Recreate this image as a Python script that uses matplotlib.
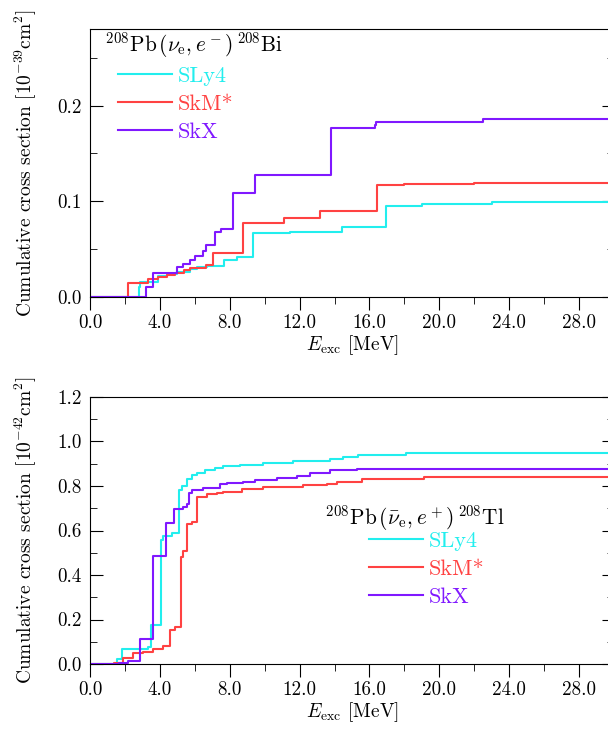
import numpy as np
import matplotlib
matplotlib.use('Agg')
import matplotlib.pyplot as plt
from matplotlib.ticker import MultipleLocator

plt.rcParams['font.family'] = 'serif'
plt.rcParams['font.serif'] = ['cmr10']
plt.rcParams['mathtext.fontset'] = 'cm'
plt.rcParams['axes.unicode_minus'] = False
plt.rcParams['axes.formatter.use_mathtext'] = True

# top panel: 208Pb(nu_e, e-)208Bi, cumulative cross section [1e-39 cm^2]
nu_sly4_e = [0.0, 2.79, 2.86, 3.9, 4.43, 4.96, 5.72, 6.1, 6.68, 7.67, 8.4, 9.35, 11.45, 14.4, 16.95, 19.0, 23.0, 30.0]
nu_sly4_s = [0.0, 0.0108, 0.016, 0.022, 0.024, 0.0265, 0.029, 0.0318, 0.0325, 0.0387, 0.042, 0.0667, 0.068, 0.0736, 0.095, 0.097, 0.099, 0.0995]
nu_skm_e = [0.0, 2.2, 3.34, 3.9, 4.43, 4.87, 5.4, 5.72, 6.64, 7.02, 8.74, 11.1, 13.17, 16.45, 18.0, 22.0, 30.0]
nu_skm_s = [0.0, 0.015, 0.0185, 0.0206, 0.023, 0.0255, 0.028, 0.030, 0.0335, 0.0457, 0.077, 0.083, 0.090, 0.1166, 0.118, 0.119, 0.120]
nu_skx_e = [0.0, 3.2, 3.63, 5.0, 5.3, 5.7, 6.03, 6.45, 6.64, 7.14, 7.48, 8.2, 9.45, 13.78, 16.3, 16.4, 22.5, 30.0]
nu_skx_s = [0.0, 0.010, 0.0248, 0.031, 0.034, 0.039, 0.043, 0.0485, 0.054, 0.068, 0.0715, 0.1085, 0.127, 0.177, 0.180, 0.183, 0.186, 0.187]

# bottom panel: 208Pb(anti-nu_e, e+)208Tl, cumulative cross section [1e-42 cm^2]
an_sly4_e = [0.0, 1.53, 1.85, 3.34, 3.47, 4.04, 4.16, 4.68, 5.11, 5.25, 5.57, 5.82, 6.1, 6.58, 7.16, 7.63, 8.59, 9.92, 11.64, 13.74, 14.5, 15.36, 18.1, 21.0, 30.0]
an_sly4_s = [0.0, 0.021, 0.069, 0.077, 0.175, 0.557, 0.575, 0.587, 0.782, 0.80, 0.83, 0.848, 0.86, 0.872, 0.879, 0.89, 0.893, 0.902, 0.914, 0.923, 0.932, 0.941, 0.948, 0.95, 0.95]
an_skm_e = [0.0, 1.37, 1.91, 2.44, 3.05, 3.63, 4.16, 4.58, 4.87, 5.19, 5.3, 5.53, 5.82, 6.15, 6.68, 7.25, 7.63, 8.68, 9.92, 12.2, 13.55, 14.12, 15.55, 19.1, 23.8, 30.0]
an_skm_s = [0.0, 0.005, 0.026, 0.048, 0.055, 0.066, 0.081, 0.153, 0.168, 0.482, 0.509, 0.629, 0.64, 0.752, 0.764, 0.77, 0.775, 0.785, 0.794, 0.803, 0.809, 0.819, 0.833, 0.839, 0.842, 0.842]
an_skx_e = [0.0, 1.68, 2.19, 2.86, 3.59, 4.35, 4.81, 5.34, 5.53, 5.69, 5.82, 6.49, 7.44, 7.82, 8.78, 9.45, 10.69, 11.83, 12.6, 13.74, 15.27, 18.1, 30.0]
an_skx_s = [0.0, 0.003, 0.0135, 0.111, 0.485, 0.635, 0.695, 0.707, 0.719, 0.77, 0.782, 0.7925, 0.807, 0.815, 0.819, 0.827, 0.834, 0.846, 0.857, 0.870, 0.875, 0.878, 0.878]

labels = ['SLy4', 'SkM*', 'SkX']
colors = ['#22eeee', '#ff4242', '#8018ff']

fig = plt.figure(figsize=(6.08, 7.33), dpi=100)
W, H = 608.0, 733.0
ax1 = fig.add_axes([90/W, 1-297/H, 524/W, 268/H])
ax2 = fig.add_axes([90/W, 1-664/H, 524/W, 267/H])

panels = [
    (ax1, [(nu_sly4_e, nu_sly4_s), (nu_skm_e, nu_skm_s), (nu_skx_e, nu_skx_s)]),
    (ax2, [(an_sly4_e, an_sly4_s), (an_skm_e, an_skm_s), (an_skx_e, an_skx_s)]),
]

for ax, series in panels:
    for (e, s), lab, c in zip(series, labels, colors):
        ax.step(e, s, where='post', color=c, lw=1.5, label=lab)
    ax.set_xlim(0, 30)
    ax.xaxis.set_major_locator(MultipleLocator(4))
    ax.xaxis.set_minor_locator(MultipleLocator(2))
    ax.xaxis.set_major_formatter(plt.FormatStrFormatter('%.1f'))
    ax.yaxis.set_major_formatter(plt.FormatStrFormatter('%.1f'))
    ax.tick_params(axis='x', which='both', direction='out', top=False, labelsize=13.7, pad=3)
    ax.tick_params(axis='x', which='major', length=9)
    ax.tick_params(axis='x', which='minor', length=4.8)
    ax.tick_params(axis='y', which='both', direction='in', left=True, right=True, labelsize=13.7, pad=6)
    ax.tick_params(axis='y', which='major', length=9)
    ax.tick_params(axis='y', which='minor', length=5)
    ax.set_xlabel(r'$E_{\rm exc}$ [MeV]', fontsize=14, labelpad=1)
    ax.yaxis.set_label_coords(-0.097, 0.47)

leg_kw = dict(loc='upper left', frameon=False, fontsize=16, handlelength=2.43, handletextpad=0.27,
              labelspacing=0.37, labelcolor='linecolor', borderpad=0, borderaxespad=0)

ax1.set_ylim(0, 0.28)
ax1.yaxis.set_major_locator(MultipleLocator(0.1))
ax1.yaxis.set_minor_locator(MultipleLocator(0.05))
ax1.set_ylabel(r'Cumulative cross section [10$^{-39}$cm$^2$]', fontsize=14)
ax1.text(0.028, 0.94, r'$^{208}{\rm Pb}\,(\nu_{\rm e},e^-)\,^{208}{\rm Bi}$', transform=ax1.transAxes,
         fontsize=15.3, ha='left', va='center')
ax1.legend(bbox_to_anchor=(0.0534, 0.86), **leg_kw)

ax2.set_ylim(0, 1.2)
ax2.yaxis.set_major_locator(MultipleLocator(0.2))
ax2.yaxis.set_minor_locator(MultipleLocator(0.1))
ax2.set_ylabel(r'Cumulative cross section [10$^{-42}$cm$^2$]', fontsize=14)
ax2.text((325-90)/524, (664-518)/267, r'$^{208}{\rm Pb}\,(\bar{\nu}_{\rm e},e^+)\,^{208}{\rm Tl}$',
         transform=ax2.transAxes, fontsize=15.3, ha='left', va='center')
ax2.legend(bbox_to_anchor=((369-90)/524, 0.496), **leg_kw)

fig.savefig('out.png', dpi=100)
